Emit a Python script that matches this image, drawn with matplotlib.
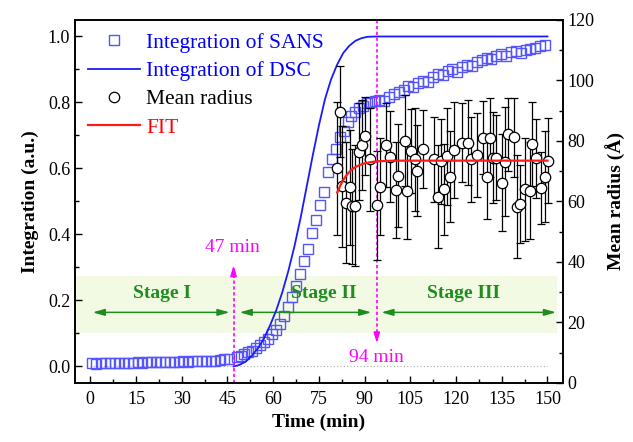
import numpy as np
import matplotlib
matplotlib.use('Agg')
import matplotlib.pyplot as plt
from matplotlib.lines import Line2D

plt.rcParams['font.family'] = 'Liberation Serif'
plt.rcParams['mathtext.fontset'] = 'stix'

# SANS integration (left axis)
sans_t = [0.5, 2.0, 3.5, 5.0, 6.5, 8.0, 9.5, 11.0, 12.5, 14.0, 15.5, 17.0, 18.5, 20.0, 21.5,
          23.0, 24.5, 26.0, 27.5, 29.0, 30.5, 32.0, 33.5, 35.0, 36.5, 38.0, 39.5, 41.0, 42.5,
          44.0, 45.5,
          48.0, 49.3, 50.6, 51.9, 53.2, 54.5, 55.8, 57.1, 58.4, 59.7, 61.0, 62.3, 63.6, 64.9,
          66.2, 67.5, 68.8, 70.1, 71.4, 72.7, 74.0, 75.3, 76.6, 77.9, 79.2, 80.5, 81.8, 83.1,
          84.4, 85.7, 87.0, 88.3, 89.6, 90.9, 92.2, 93.5,
          94.8, 96.4, 98.0, 99.6, 101.2, 102.8, 104.4, 106.0, 107.6, 109.2, 110.8, 112.4, 114.0,
          115.6, 117.2, 118.8, 120.4, 122.0, 123.6, 125.2, 126.8, 128.4, 130.0, 131.6, 133.2,
          134.8, 136.4, 138.0, 139.6, 141.2, 142.8, 144.4, 146.0, 147.6, 149.2]
sans_v = [0.010, 0.009, 0.011, 0.010, 0.010, 0.012, 0.011, 0.011, 0.012, 0.012, 0.013, 0.012,
          0.013, 0.014, 0.013, 0.015, 0.014, 0.015, 0.015, 0.014, 0.016, 0.015, 0.016, 0.016,
          0.017, 0.016, 0.017, 0.018, 0.019, 0.022, 0.024,
          0.028, 0.033, 0.039, 0.043, 0.048, 0.056, 0.065, 0.074, 0.083, 0.097, 0.112, 0.130,
          0.152, 0.180, 0.210, 0.243, 0.280, 0.320, 0.355, 0.405, 0.445, 0.490, 0.530, 0.590,
          0.630, 0.660, 0.695, 0.715, 0.740, 0.760, 0.772, 0.783, 0.790, 0.797, 0.802, 0.806,
          0.808, 0.804, 0.818, 0.825, 0.832, 0.838, 0.850, 0.846, 0.858, 0.866, 0.862, 0.876,
          0.886, 0.882, 0.896, 0.900, 0.893, 0.908, 0.914, 0.910, 0.924, 0.928, 0.935, 0.932,
          0.942, 0.946, 0.940, 0.952, 0.955, 0.951, 0.960, 0.963, 0.966, 0.970, 0.975]

# DSC integration (left axis)
dsc_t = [47, 49, 51, 53, 55, 57, 59, 61, 63, 65, 67, 69, 71, 73, 75, 77, 79, 81, 83, 85, 87,
         89, 91, 94, 150]
dsc_v = [0.0, 0.005, 0.015, 0.033, 0.055, 0.085, 0.125, 0.17, 0.225, 0.29, 0.365, 0.45, 0.545,
         0.64, 0.73, 0.81, 0.87, 0.915, 0.95, 0.972, 0.987, 0.995, 0.999, 1.0, 1.0]

# Mean radius (right axis)
rad_t = [80.9, 82.0, 82.7, 83.8, 85.1, 86.0, 87.0, 88.1, 89.1, 90.0, 91.9, 94.0, 94.9, 96.9,
         98.2, 100.2, 100.9, 103.1, 104.0, 105.1, 106.4, 107.1, 109.1, 112.9, 114.0, 115.1,
         115.9, 117.1, 118.1, 119.2, 122.0, 123.9, 125.0, 126.9, 128.8, 130.1, 131.0, 132.1,
         133.2, 135.0, 136.1, 137.2, 138.9, 139.9, 141.0, 142.7, 144.1, 145.0, 146.1, 147.9,
         149.2, 150.1]
rad_r = [71.0, 89.7, 65.1, 59.6, 64.7, 58.5, 58.6, 76.5, 78.7, 81.7, 73.9, 58.7, 64.9, 78.7,
         74.8, 63.8, 68.5, 80.1, 63.5, 76.7, 73.9, 70.2, 77.4, 73.9, 61.6, 73.3, 64.0, 75.0,
         68.2, 77.0, 79.4, 79.4, 73.9, 75.4, 81.1, 68.2, 81.1, 74.5, 74.5, 66.2, 73.2, 82.2,
         81.2, 58.3, 59.2, 64.0, 63.6, 79.0, 74.3, 64.4, 68.2, 73.5]
rad_err = [22, 15, 20, 20, 19, 19, 20, 16, 15, 13, 17, 18, 16, 14, 15, 16, 17, 15, 16, 14, 17,
           15, 13, 14, 17, 14, 15, 16, 15, 16, 13, 14, 14, 14, 12, 14, 13, 15, 14, 16, 18, 12,
           13, 17, 13, 17, 16, 14, 13, 12, 15, 14]

# FIT curve (right axis)
fit_t = [81, 82, 83, 84, 85, 86, 87, 88, 89, 90, 92, 94, 97, 100, 150]
fit_r = [62.9, 65.2, 67.1, 68.6, 69.8, 70.7, 71.4, 71.9, 72.3, 72.6, 73.0, 73.3, 73.4, 73.5, 73.5]

xticks = list(range(0, 151, 15))
green = '#1e8c1e'
mag = '#ff00ff'
sq_col = '#5555ff'

fig = plt.figure(figsize=(6.33, 4.42), dpi=100)
ax = fig.add_axes([0.1185, 0.1335, 0.7705, 0.8213])
ax2 = ax.twinx()

# stage band
ax.fill_between([-5, 153], 0.1, 0.275, color='#f3fae3', lw=0, zorder=0)
ax.plot([0, 150], [0, 0], color='#aaaaaa', ls=(0, (1, 2)), lw=0.8, zorder=1)

ax.plot(sans_t, sans_v, ls='none', marker='s', ms=7, mfc='none', mec=sq_col, mew=1.0,
        zorder=3)
ax.plot(dsc_t, dsc_v, color='#1a1aff', lw=1.3, zorder=4)

ax2.errorbar(rad_t, rad_r, yerr=rad_err, fmt='o', ms=7.5, mfc='white', mec='black', mew=0.9,
             ecolor='black', elinewidth=0.9, capsize=3, capthick=0.9, zorder=2)
ax2.plot(fit_t, fit_r, color='#ff1a1a', lw=1.6, zorder=5)

# magenta markers for 47 and 94 min
ax.plot([47, 47], [-0.05, 0.29], color=mag, ls=(0, (2, 1.5)), lw=1.2, zorder=5)
ax.annotate('', xy=(47, 0.315), xytext=(47, 0.28),
            arrowprops=dict(arrowstyle='-|>,head_length=0.6,head_width=0.18', color=mag,
                            lw=1.2))
ax.text(46.5, 0.36, '47 min', color=mag, fontsize=14, ha='center', va='center')
ax.plot([94, 94], [1.05, 0.09], color=mag, ls=(0, (2, 1.5)), lw=1.2, zorder=5)
ax.annotate('', xy=(94, 0.062), xytext=(94, 0.1),
            arrowprops=dict(arrowstyle='-|>,head_length=0.6,head_width=0.18', color=mag,
                            lw=1.2))
ax.text(94, 0.027, '94 min', color=mag, fontsize=14, ha='center', va='center')

# stage labels and arrows
for x0, x1, label, xc in [(0.8, 45.7, 'Stage I', 23.5), (49, 92.2, 'Stage II', 76.5),
                          (95.5, 152.8, 'Stage III', 122.5)]:
    ax.annotate('', xy=(x1, 0.164), xytext=(x0, 0.164),
                arrowprops=dict(arrowstyle='<|-|>,head_length=0.7,head_width=0.2',
                                color=green, lw=1.1, shrinkA=0, shrinkB=0))
    ax.text(xc, 0.222, label, color=green, fontsize=14, fontweight='bold', ha='center',
            va='center')

ax.set_xlim(-5, 155)
ax.set_ylim(-0.05, 1.05)
ax2.set_ylim(0, 120)
ax.set_xticks(xticks)
ax.set_xticks(np.arange(7.5, 151, 15), minor=True)
ax.set_yticks([0.0, 0.2, 0.4, 0.6, 0.8, 1.0])
ax.set_yticks([0.1, 0.3, 0.5, 0.7, 0.9], minor=True)
ax2.set_yticks(range(0, 121, 20))
ax2.set_yticks(range(10, 120, 20), minor=True)

for a in (ax, ax2):
    a.tick_params(which='major', direction='in', length=5, width=1, labelsize=13)
    a.tick_params(which='minor', direction='in', length=3, width=1)
    for s in a.spines.values():
        s.set_linewidth(1.2)
ax.tick_params(axis='x', pad=6)

ax.set_xlabel('Time (min)', fontsize=14, fontweight='bold', labelpad=4)
ax.set_ylabel('Integration (a.u.)', fontsize=14, fontweight='bold', labelpad=6)
ax2.set_ylabel('Mean radius (Å)', fontsize=14, fontweight='bold', labelpad=8)

handles = [
    Line2D([], [], ls='none', marker='s', ms=7, mfc='none', mec=sq_col, mew=1.0),
    Line2D([], [], color='#1a1aff', lw=1.3),
    Line2D([], [], ls='none', marker='o', ms=7.5, mfc='white', mec='black', mew=0.9),
    Line2D([], [], color='#ff1a1a', lw=1.6),
]
labels = ['Integration of SANS', 'Integration of DSC', 'Mean radius', 'FIT']
leg = ax2.legend(handles, labels, loc='upper left', bbox_to_anchor=(0.0, 1.0), frameon=False,
                 fontsize=15.5, handlelength=2.4, handletextpad=0.3, labelspacing=0.38,
                 borderaxespad=0.2)
for txt, c in zip(leg.get_texts(), ['#0000ff', '#0000ff', 'black', '#ff0000']):
    txt.set_color(c)

fig.savefig('out.png', dpi=100)
